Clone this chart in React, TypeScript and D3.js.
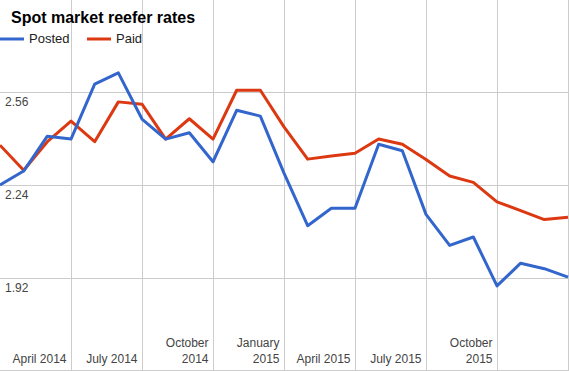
import { scaleLinear, line } from 'd3';

// monthly points, Jan 2014 .. Jan 2016
const months = [
  'Jan 2014', 'Feb 2014', 'Mar 2014', 'Apr 2014', 'May 2014', 'Jun 2014',
  'Jul 2014', 'Aug 2014', 'Sep 2014', 'Oct 2014', 'Nov 2014', 'Dec 2014',
  'Jan 2015', 'Feb 2015', 'Mar 2015', 'Apr 2015', 'May 2015', 'Jun 2015',
  'Jul 2015', 'Aug 2015', 'Sep 2015', 'Oct 2015', 'Nov 2015', 'Dec 2015',
  'Jan 2016',
];

const posted = [
  2.24, 2.288, 2.408, 2.398, 2.587, 2.626, 2.467, 2.398, 2.42, 2.32,
  2.497, 2.477, 2.281, 2.1, 2.16, 2.16, 2.38, 2.358, 2.139, 2.032,
  2.061, 1.893, 1.971, 1.952, 1.923,
];

const paid = [
  2.377, 2.291, 2.389, 2.46, 2.389, 2.526, 2.518, 2.398, 2.468, 2.398,
  2.566, 2.566, 2.44, 2.329, 2.34, 2.349, 2.398, 2.38, 2.328, 2.271,
  2.249, 2.182, 2.152, 2.121, 2.129,
];

// quarter gridlines (month index) and their labels
const quarterTicks = [3, 6, 9, 12, 15, 18, 21, 24];
const quarterLabels = [
  ['April 2014'],
  ['July 2014'],
  ['October', '2014'],
  ['January', '2015'],
  ['April 2015'],
  ['July 2015'],
  ['October', '2015'],
  [],
];

const yTicks = [1.92, 2.24, 2.56];

const width = 569;
const height = 371;
const font = '"Liberation Sans", Arial, sans-serif';

export default function App() {
  const x = scaleLinear().domain([0, months.length - 1]).range([0, 568]);
  const y = scaleLinear().domain([1.6, 2.88]).range([371, -1]);

  const path = line<number>()
    .x((d, i) => x(i))
    .y((d) => y(d));

  return (
    <>
      <style>{`body{margin:0}`}</style>
      <svg width={width} height={height} style={{ display: 'block' }} fontFamily={font}>
        <rect width={width} height={height} fill="#fff" />
        {yTicks.map((t) => (
          <line key={t} x1={0} x2={width} y1={Math.round(y(t)) + 0.5} y2={Math.round(y(t)) + 0.5} stroke="#ccc" />
        ))}
        {quarterTicks.map((t) => (
          <line key={t} x1={Math.round(x(t)) + 0.5} x2={Math.round(x(t)) + 0.5} y1={0} y2={height} stroke="#ccc" />
        ))}
        <line x1={0} x2={width} y1={370.5} y2={370.5} stroke="#ccc" />

        <path d={path(paid) || ''} fill="none" stroke="#dc3912" strokeWidth={3} strokeLinejoin="round" />
        <path d={path(posted) || ''} fill="none" stroke="#3366cc" strokeWidth={3} strokeLinejoin="round" />

        {yTicks.map((t) => (
          <text key={t} x={5} y={y(t) + 14} fontSize={12} fill="#444">
            {t.toFixed(2)}
          </text>
        ))}
        {quarterTicks.map((t, i) => {
          const lines = quarterLabels[i];
          return lines.map((s, j) => (
            <text
              key={t + s}
              x={x(t) - 4.5}
              y={363 - (lines.length - 1 - j) * 16}
              fontSize={12}
              fill="#444"
              textAnchor="end"
            >
              {s}
            </text>
          ));
        })}

        <text x={11} y={23} fontSize={16} fontWeight="bold" fill="#000">
          Spot market reefer rates
        </text>
        <line x1={-2} x2={24} y1={39} y2={39} stroke="#3366cc" strokeWidth={3} />
        <text x={29} y={43} fontSize={13} fill="#222">Posted</text>
        <line x1={87} x2={111} y1={39} y2={39} stroke="#dc3912" strokeWidth={3} />
        <text x={116} y={43} fontSize={13} fill="#222">Paid</text>
      </svg>
    </>
  );
}
